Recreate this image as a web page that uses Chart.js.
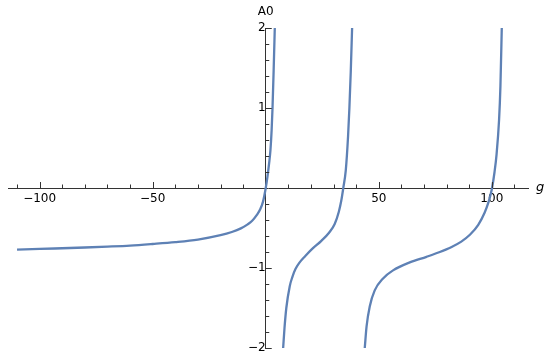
<!DOCTYPE html>
<html>
<head>
<meta charset="utf-8">
<script src="https://cdn.jsdelivr.net/npm/chart.js@4.4.1/dist/chart.umd.min.js"></script>
<style>
    html, body { margin: 0; padding: 0; background: #fff; }
    #wrap { width: 550px; height: 358px; }
</style>
</head>
<body>
<div id="wrap"><canvas id="plot"></canvas></div>
<script>
// values, one branch per array pair
const branch1G = [-110, -100, -90, -80, -70, -60, -50, -40, -30, -20, -15, -11, -8, -6, -4, -2.5, -1.2, 0, 0.75, 1.5, 2.1, 2.6, 3.0, 3.5, 4.0];
const branch1A = [-0.77, -0.762, -0.753, -0.744, -0.733, -0.72, -0.70, -0.677, -0.645, -0.59, -0.55, -0.505, -0.455, -0.41, -0.34, -0.27, -0.17, 0, 0.14, 0.31, 0.48, 0.72, 1.0, 1.47, 2.0];

const branch2G = [7.7, 8.3, 9.1, 10.6, 11.8, 13.2, 15.0, 17.5, 20.2, 24.6, 28.0, 30.5, 32.3, 33.4, 34.3, 35.4, 36.4, 37.0, 37.6, 38.2];
const branch2A = [-2, -1.75, -1.5, -1.23, -1.11, -1.01, -0.93, -0.85, -0.77, -0.66, -0.56, -0.45, -0.30, -0.16, 0, 0.22, 0.64, 1.0, 1.45, 2];

const branch3G = [43.8, 44.6, 46.0, 48.2, 51.9, 56.3, 63.7, 71.1, 77.0, 82.0, 86.5, 90.3, 94.0, 96.8, 98.6, 99.3, 100.1, 101.2, 102.1, 103.2, 103.8, 104.4];
const branch3A = [-2, -1.73, -1.48, -1.28, -1.13, -1.03, -0.93, -0.86, -0.80, -0.74, -0.67, -0.585, -0.46, -0.31, -0.17, -0.10, 0.0, 0.20, 0.42, 0.85, 1.27, 2];

const xTickLabels = [-100, -50, 50, 100];
const yTickLabels = [-2, -1, 1, 2];

const lineColor = '#5e81b5';
const axisColor = '#333';
const fontFamily = '"DejaVu Sans", sans-serif';

function toPoints(gs, as) {
    return gs.map((g, i) => ({ x: g, y: as[i] }));
}

function fmt(v) {
    return v < 0 ? '\u2212' + Math.abs(v) : String(v);
}

// axes sit inside the plot, so they should not push the plot area around
function noRoom(scale) {
    scale.paddingTop = 0;
    scale.paddingBottom = 0;
    scale.paddingLeft = 0;
    scale.paddingRight = 0;
}

// small ticks drawn on one side of each axis, like the original
const axisDecor = {
    id: 'axisDecor',
    afterDraw(chart) {
        const ctx = chart.ctx;
        const xs = chart.scales.x;
        const ys = chart.scales.y;
        const x0 = xs.getPixelForValue(0);
        const y0 = ys.getPixelForValue(0);
        ctx.save();
        ctx.strokeStyle = axisColor;
        ctx.lineWidth = 1;
        ctx.beginPath();
        for (let v = -110; v <= 110; v += 10) {
            if (v === 0) continue;
            const px = Math.round(xs.getPixelForValue(v)) + 0.5;
            const len = xTickLabels.includes(v) ? 6 : 3.5;
            ctx.moveTo(px, y0);
            ctx.lineTo(px, y0 - len);
        }
        for (let k = -10; k <= 10; k++) {
            if (k === 0) continue;
            const v = k / 5;
            const py = Math.round(ys.getPixelForValue(v)) + 0.5;
            const len = yTickLabels.includes(v) ? 6 : 3.5;
            ctx.moveTo(x0, py);
            ctx.lineTo(x0 + len, py);
        }
        ctx.stroke();

        ctx.fillStyle = '#000';
        ctx.font = '12px ' + fontFamily;
        ctx.textAlign = 'center';
        ctx.textBaseline = 'middle';
        ctx.fillText('A0', x0, 12);
        ctx.font = 'italic 13px ' + fontFamily;
        ctx.textAlign = 'left';
        ctx.fillText('g', xs.right + 8, y0);
        ctx.restore();
    }
};

new Chart(document.getElementById('plot'), {
    type: 'line',
    data: {
        datasets: [
            { data: toPoints(branch1G, branch1A) },
            { data: toPoints(branch2G, branch2A) },
            { data: toPoints(branch3G, branch3A) }
        ].map(d => Object.assign(d, {
            borderColor: lineColor,
            borderWidth: 2.3,
            pointRadius: 0,
            fill: false,
            cubicInterpolationMode: 'monotone'
        }))
    },
    options: {
        responsive: true,
        maintainAspectRatio: false,
        animation: false,
        layout: { padding: { left: 8, right: 22, top: 28, bottom: 10 } },
        plugins: {
            legend: { display: false },
            tooltip: { enabled: false }
        },
        scales: {
            x: {
                type: 'linear',
                min: -114,
                max: 116,
                position: { y: 0 },
                afterBuildTicks: (scale) => {
                    scale.ticks = xTickLabels.map(v => ({ value: v }));
                },
                afterFit: noRoom,
                ticks: {
                    autoSkip: false,
                    maxRotation: 0,
                    padding: 4,
                    color: '#000',
                    font: { family: fontFamily, size: 12 },
                    callback: (v) => fmt(v)
                },
                grid: { display: false, drawTicks: false },
                border: { display: true, color: axisColor, width: 1 }
            },
            y: {
                type: 'linear',
                min: -2,
                max: 2,
                position: { x: 0 },
                afterBuildTicks: (scale) => {
                    scale.ticks = yTickLabels.map(v => ({ value: v }));
                },
                afterFit: noRoom,
                ticks: {
                    autoSkip: false,
                    padding: 6,
                    color: '#000',
                    font: { family: fontFamily, size: 12 },
                    callback: (v) => fmt(v)
                },
                grid: { display: false, drawTicks: false },
                border: { display: true, color: axisColor, width: 1 }
            }
        }
    },
    plugins: [axisDecor]
});
</script>
</body>
</html>
